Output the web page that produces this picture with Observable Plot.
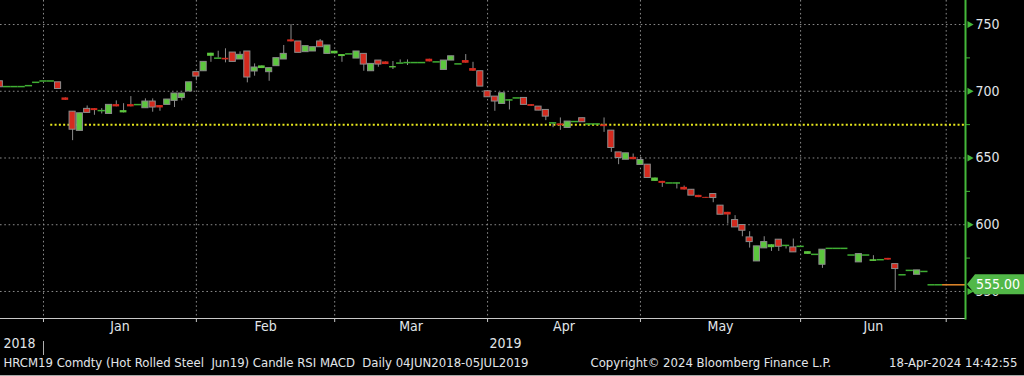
<!DOCTYPE html>
<html><head><meta charset="utf-8">
<script src="https://cdn.jsdelivr.net/npm/d3@7"></script>
<script src="https://cdn.jsdelivr.net/npm/@observablehq/plot@0.6"></script>
<style>
html,body{margin:0;padding:0;background:#000;}
#chart{width:1024px;height:376px;overflow:hidden;background:#000}
</style></head><body><div id="chart"></div>
<script>
// Trading-day index 0 = first visible session (Dec 2018)
const opens = [707.5,703.5,703.5,703.5,704.2,706.7,707.7,707.7,706.7,695,
 684.7,670.3,686.8,687,685.5,683,690,683.8,690,690,
 687.3,692.3,689.3,689.8,692.8,695,699.8,714.3,715,726.2,
 724.8,724.7,729,723.8,729.8,714.8,717,714.3,718.8,723.8,
 738.5,737.3,729.3,729.8,737.3,728,728,726,728,724.5,
 728,715,723,722,717.5,721.1,721.5,721.5,721.5,724,
 722,716,723,720.5,723,717,715,700,696,690.5,
 693.5,695,695,690,688.5,686,676.3,675.5,672.5,677.3,
 679.8,675.5,675.5,674.8,670.5,654.2,648.7,650.5,644.8,645,
 632.5,632.5,631.3,631.3,628,626.2,622,620.5,623,614.3,
 609.3,603.5,599.8,590.5,572.5,582.3,582.8,588.8,584.5,583,
 583.8,577.8,577.8,570,582.3,582.3,582.3,577.3,571.8,577.3,
 572.5,573.8,574.8,570.5,562.5,565.8,562.5,565,555,555];
const highs = [707.5,703.5,703.5,703.5,704.2,706.7,707.7,707.7,706.7,695,
 684.7,683.5,689,687,687,689.8,692.8,690.7,696,690,
 694.3,694.3,689.3,693.8,698.3,698.3,706.7,714.3,722,728.5,
 730,731.8,729,729.5,729.8,720.5,719,717.3,724.8,734.3,
 750,737.3,733.8,733,738.8,734.3,730,727.5,728,729.8,
 728,720.5,723,722,722.3,723.5,723.5,721.5,721.5,724,
 722,723,726.2,720.5,727.5,721.7,715,700,696,698.5,
 693.5,695,695,690,688.5,686,676.3,680,677.3,677.3,
 679.8,675.5,675.5,680,670.5,654.2,653.5,653,650.5,645,
 635,632.5,631.3,631.3,629,626.2,622,620.5,623,614.3,
 609.3,606.8,599.8,594.8,583.8,591,585,588.8,584.5,589.3,
 583.8,579.8,577.8,581.3,582.3,582.3,582.3,577.3,578.3,577.3,
 576.8,573.8,574.8,570.5,562.5,565.8,565.8,565,555,555];
const lows = [703,703.5,703.5,703.5,704.2,706.7,707.7,707.7,701.7,693.2,
 663,670.3,683.8,682,683,683,688.3,683.8,688.3,690,
 687.3,684.3,685,689.8,687.8,692.8,699.8,707.8,715,721.7,
 724.8,721.3,722,723.8,706.3,711.3,717,707.5,718.8,723.8,
 737,728.8,729.3,729.8,733,728,728,721.7,728,724.5,
 715,715,718,720,716.3,721.1,719.3,721.5,721.5,722,
 722,716,723,720.5,721,715,703.5,695.5,685,690.5,
 686,695,689.8,688.7,685.5,678,672.7,670.7,672.5,677.3,
 676.8,675.5,675.5,669.2,654.2,645,648.7,648.7,644.8,635,
 632.5,628,631.3,626.8,626,621.8,620.3,619.8,616.5,607.5,
 600.5,598,591,582.5,572.5,582.3,580,580,581.8,579.3,
 583.8,577.8,577.8,567.3,582.3,582.3,582.3,577.3,571.8,577.3,
 572.5,573.8,573.5,550.5,562.5,565.8,562.5,565,555,555];
const closes = [703,703.5,703.5,703.5,704.2,706.7,707.7,707.7,701.7,693.2,
 671.2,683.5,683.8,685.5,685.5,689.8,688.3,685.5,688.3,690,
 692.3,687.8,687.5,693.8,698.3,698.3,706.7,711,722,728.5,
 724.8,723.5,722,727.3,710.3,717.8,719,717.3,724.8,728,
 737,728.8,733.8,733,733,734.3,730,727.5,728,729.8,
 720,720.5,720,720,718.5,721.1,721.5,721.5,721.5,722,
 722,723,726.2,720.5,721,715,703.5,695.5,692.3,698.5,
 693.5,695,689.8,688.7,685.5,681,676.3,674.2,677.3,677.3,
 676.8,675.5,675.5,673.5,657.5,650,653.5,648.7,648.5,635,
 635,631,631.3,631.3,626,621.8,620.3,619.8,620,607.5,
 607.3,598,595.5,587,583.8,587,585,583.5,584.5,579.3,
 583.8,579.8,577.8,581.3,582.3,582.3,582.3,577.3,578,577.3,
 573.8,573.8,573.5,566.8,562.5,565.8,565.8,565,555,555];

const monthStarts = [6, 27, 46, 67, 88, 110, 130];
const monthNames = ["Jan", "Feb", "Mar", "Apr", "May", "Jun"];
const yearLabels = ["2018", "2019"];
const yTicks = [550, 600, 650, 700, 750];
const yMinor = [575, 625, 675, 725];
const refLevel = 675, refStart = 7;
const lastPrice = 555;
const footerLeft = "HRCM19 Comdty (Hot Rolled Steel  Jun19) Candle RSI MACD  Daily 04JUN2018-05JUL2019";
const footerMid = "Copyright\u00A9 2024 Bloomberg Finance L.P.";
const footerRight = "18-Apr-2024 14:42:55";

const xDom = [0.095, 132.65];
const FONT = "'DejaVu Sans Condensed', 'DejaVu Sans', sans-serif";
const GREEN = "#5cc63e", RED = "#d42a1e", FLAT = "#3fae33", OUT = "#8c8c8c";
const AXISG = "#45b83a", GRID = "#8a8a8a", TXT = "#e2e6ea";

const candles = opens.map((o, i) => ({i, o, h: highs[i], l: lows[i], c: closes[i]}));
const mids = monthNames.map((m, k) => ({m, x: (monthStarts[k] + monthStarts[k + 1]) / 2}));
const col = d => d.c > d.o ? GREEN : RED;

const plot = Plot.plot({
  width: 1024, height: 376,
  marginLeft: 0, marginRight: 59, marginTop: 0, marginBottom: 58,
  style: {background: "#000", color: TXT, fontFamily: FONT, fontSize: "14px"},
  x: {domain: xDom, axis: null},
  y: {domain: [529.75, 768], axis: null},
  marks: [
    Plot.gridY(yTicks, {stroke: GRID, strokeOpacity: 1, strokeDasharray: "1.6,2.7"}),
    Plot.gridX(monthStarts, {stroke: GRID, strokeOpacity: 1, strokeDasharray: "1.6,2.7"}),
    Plot.ruleY([refLevel], {x1: refStart, x2: xDom[1], stroke: "#e8e81c", strokeWidth: 2, strokeDasharray: "2,2.3"}),
    Plot.ruleX(candles.filter(d => d.h > d.l), {x: "i", y1: "l", y2: "h", stroke: OUT}),
    Plot.ruleY(candles.filter(d => d.o === d.c), {y: "c", x1: d => d.i - 0.5, x2: d => d.i + 0.5, stroke: FLAT, strokeWidth: 1.5}),
    Plot.rect(candles.filter(d => Math.abs(d.o - d.c) >= 3), {x1: d => d.i - 0.42, x2: d => d.i + 0.42, y1: "o", y2: "c", fill: col, stroke: OUT}),
    Plot.rect(candles.filter(d => d.o !== d.c && Math.abs(d.o - d.c) < 3), {x1: d => d.i - 0.46, x2: d => d.i + 0.46, y1: "o", y2: "c", fill: col}),
    Plot.ruleY([lastPrice], {x1: opens.length - 0.5, x2: xDom[1], stroke: "#e58a2b", strokeWidth: 1.5}),
    Plot.frame({anchor: "bottom", stroke: "#c8c8c8"}),
    Plot.axisX(monthStarts, {anchor: "bottom", tickSize: 4, tickFormat: () => "", stroke: "#c8c8c8", label: null}),
    Plot.frame({anchor: "right", stroke: AXISG, strokeWidth: 2}),
    Plot.axisY(yMinor, {anchor: "right", tickSize: 4, tickFormat: () => "", stroke: AXISG, label: null}),
    Plot.axisY(yTicks, {anchor: "right", tickSize: 0, tickPadding: 10, fill: TXT, fontSize: 14, label: null}),
    Plot.dot(yTicks, {y: d => d, frameAnchor: "right", dx: 4, symbol: "triangle2", rotate: 90, r: 3.4, fill: AXISG}),
    Plot.text(mids, {x: "x", text: "m", frameAnchor: "bottom", dy: 12, fill: TXT, fontSize: 14}),
    Plot.text([yearLabels[0]], {frameAnchor: "bottom-left", dx: 3, dy: 29, textAnchor: "start", fill: TXT, fontSize: 14}),
    Plot.text([{x: monthStarts[3], t: yearLabels[1]}], {x: "x", text: "t", frameAnchor: "bottom", dx: 2, dy: 29, textAnchor: "start", fill: TXT, fontSize: 14}),
    Plot.text([footerLeft], {frameAnchor: "bottom-left", dx: 3, dy: 48, textAnchor: "start", fill: TXT, fontSize: 13}),
    Plot.text([footerMid], {frameAnchor: "bottom-left", dx: 590, dy: 48, textAnchor: "start", fill: TXT, fontSize: 13}),
    Plot.text([footerRight], {frameAnchor: "bottom-right", dx: 52, dy: 48, textAnchor: "end", fill: TXT, fontSize: 13})
  ]
});

const svg = d3.select(plot);
const xs = plot.scale("x"), ys = plot.scale("y");
const xr = xs.range[1], yy = ys.apply(lastPrice);
// year separator
const sx = Math.round(xs.apply(monthStarts[0])) + 0.5;
svg.append("line").attr("x1", sx).attr("x2", sx).attr("y1", 341).attr("y2", 355).attr("stroke", "#b0b0b0");
// footer rule
svg.append("line").attr("x1", 0).attr("x2", 1024).attr("y1", 375.5).attr("y2", 375.5).attr("stroke", "#a8a8a8");
// last price tag
svg.append("path")
  .attr("d", `M${xr + 2},${yy} L${xr + 10},${yy - 10} L1024,${yy - 10} L1024,${yy + 10} L${xr + 10},${yy + 10} Z`)
  .attr("fill", "#52b848");
svg.append("text").attr("x", xr + 11).attr("y", yy).attr("dy", "0.35em")
  .attr("text-anchor", "start")
  .attr("fill", "#fff").attr("font-size", 14).attr("font-family", FONT).text(lastPrice.toFixed(2));

document.getElementById("chart").appendChild(plot);
</script></body></html>
